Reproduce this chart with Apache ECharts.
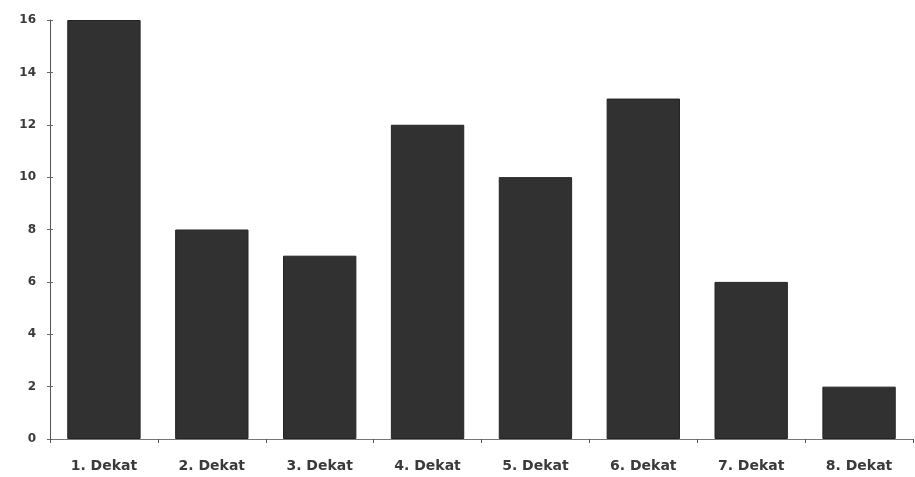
<!DOCTYPE html>
<html>
<head>
<meta charset="utf-8">
<script src="https://cdn.jsdelivr.net/npm/echarts@6/dist/echarts.min.js"></script>
<style>
  html, body { margin: 0; padding: 0; background: #fff; }
  #chart { width: 915px; height: 477px; }
</style>
</head>
<body>
<div id="chart"></div>
<script>
// Decade categories and counts
const categories = ['1. Dekat', '2. Dekat', '3. Dekat', '4. Dekat', '5. Dekat', '6. Dekat', '7. Dekat', '8. Dekat'];
const counts = [16, 8, 7, 12, 10, 13, 6, 2];
const yTicks = { min: 0, max: 16, interval: 2 };

const chart = echarts.init(document.getElementById('chart'));
const labelFont = { fontFamily: 'DejaVu Sans, Verdana, sans-serif', fontWeight: 'bold', color: '#3a3a3a' };

chart.setOption({
  backgroundColor: '#fff',
  animation: false,
  grid: { left: 50, right: 2, top: 20, bottom: 38 },
  xAxis: {
    type: 'category',
    data: categories,
    axisLine: { lineStyle: { color: '#777', width: 1 } },
    axisTick: { show: true, length: 4, lineStyle: { color: '#555' } },
    axisLabel: Object.assign({ fontSize: 14, margin: 20 }, labelFont)
  },
  yAxis: [
    {
      type: 'value',
      min: yTicks.min, max: yTicks.max, interval: yTicks.interval,
      axisLine: { show: true, lineStyle: { color: '#555', width: 1 } },
      axisTick: { show: true, length: 3, lineStyle: { color: '#666' } },
      axisLabel: Object.assign({ fontSize: 12, margin: 14 }, labelFont),
      splitLine: { show: false }
    },
    {
      // inward half of the crossing tick marks
      type: 'value', position: 'left', offset: 0,
      min: yTicks.min, max: yTicks.max, interval: yTicks.interval,
      axisLine: { show: false },
      axisTick: { show: true, inside: true, length: 3, lineStyle: { color: '#666' } },
      axisLabel: { show: false },
      splitLine: { show: false }
    }
  ],
  series: [{
    type: 'bar',
    data: counts,
    barWidth: '68%',
    itemStyle: { color: '#313131', borderColor: '#242424', borderWidth: 1 }
  }]
});
</script>
</body>
</html>
